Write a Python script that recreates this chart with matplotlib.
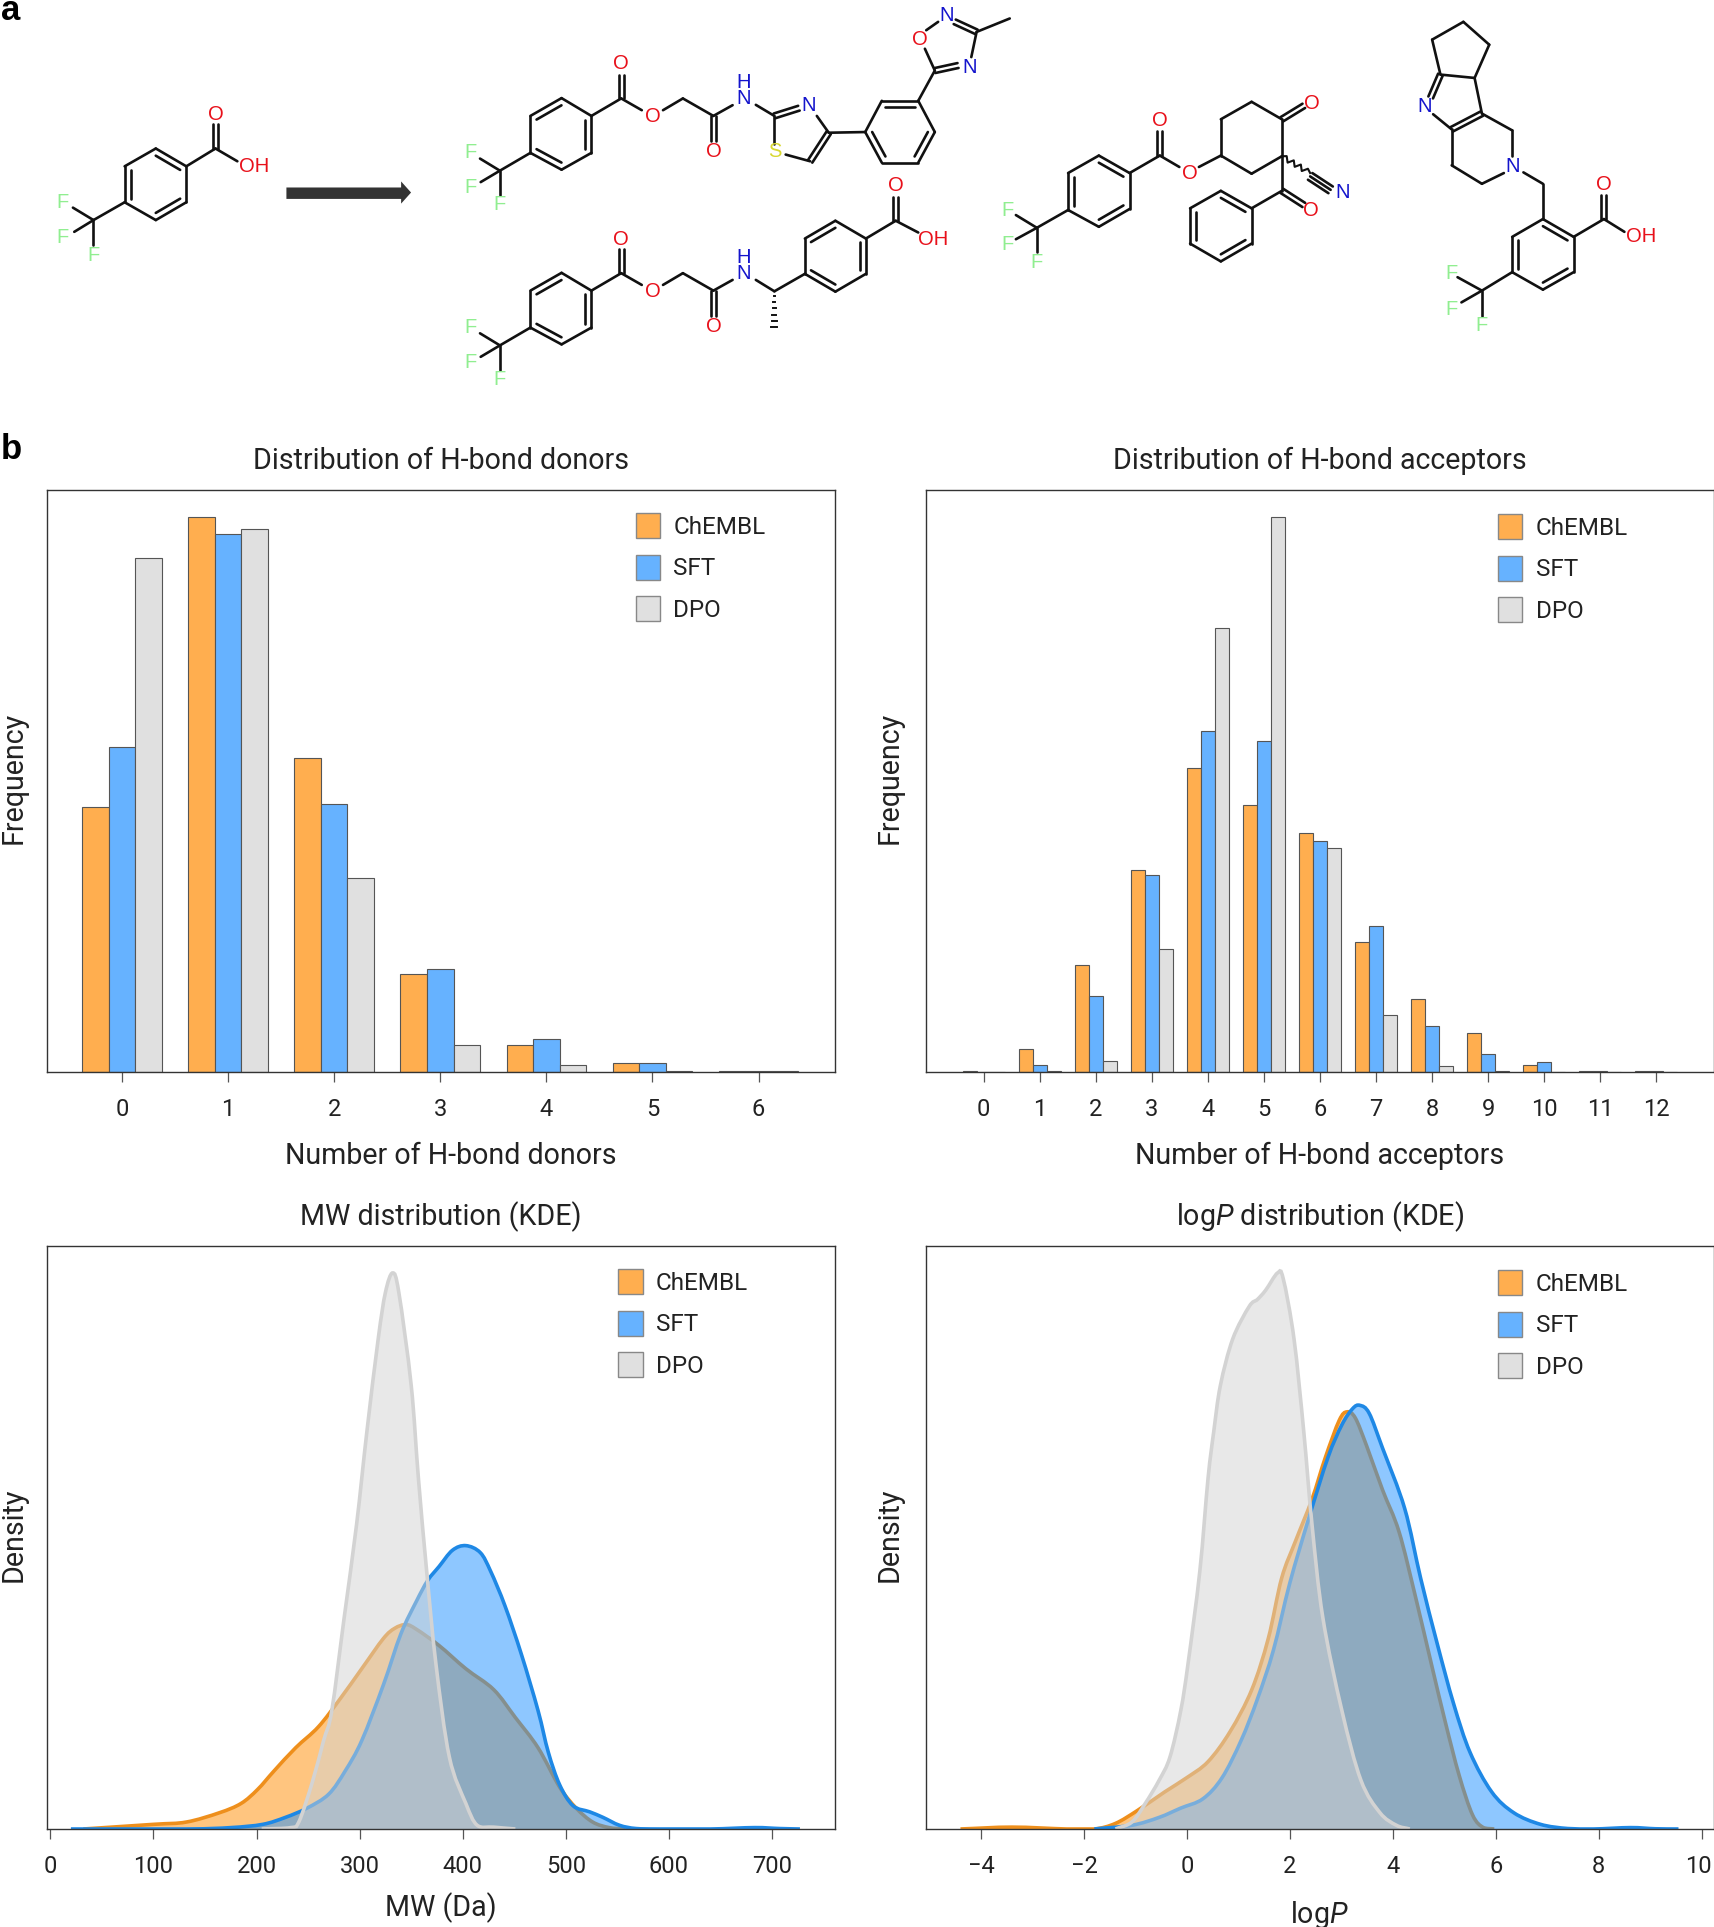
"""Property distributions of generated molecules, with example structures on top."""

import matplotlib
matplotlib.use("Agg")
import matplotlib.pyplot as plt
import numpy as np
from matplotlib.patches import Patch, PathPatch, Polygon
from matplotlib.path import Path
from matplotlib.transforms import ScaledTranslation

plt.rcParams["font.family"] = ["Roboto", "DejaVu Sans"]
plt.rcParams["mathtext.fontset"] = "custom"
plt.rcParams["mathtext.rm"] = "Roboto"
plt.rcParams["mathtext.it"] = "Roboto:italic"

W, H = 1715, 1927

SERIES = ["ChEMBL", "SFT", "DPO"]
BAR_COLORS = ["#FFAE4F", "#66B2FF", "#E0E0E0"]
KDE_COLORS = ["#FF8C00", "#1E90FF", "#D3D3D3"]
KDE_LINES = ["#EE8F1C", "#1E88E5", "#D3D3D3"]

# bar heights, arbitrary frequency units
DONORS = [0, 1, 2, 3, 4, 5, 6]
DONOR_CHEMBL = [215, 451, 255, 80, 22, 7, 1]
DONOR_SFT = [264, 437, 218, 84, 27, 7, 1]
DONOR_DPO = [418, 441, 158, 22, 6, 0.5, 0.5]

ACCEPTORS = [0, 1, 2, 3, 4, 5, 6, 7, 8, 9, 10, 11, 12]
ACC_CHEMBL = [0.5, 19, 87, 164, 247, 217, 194, 106, 59, 32, 6, 1, 1]
ACC_SFT = [0.3, 6, 62, 160, 277, 269, 188, 119, 37, 15, 8, 1, 0.5]
ACC_DPO = [0, 0.5, 9, 100, 361, 451, 182, 46, 5, 0.5, 0, 0, 0]

# KDE curves (density in arbitrary units)
MW_CHEMBL_X = [32, 100, 132, 164, 185, 201, 217, 238, 260, 281, 302, 323, 334, 345, 355, 377, 403, 430, 451, 473, 494, 510, 526, 542, 558]
MW_CHEMBL_Y = [0, 10, 15, 35, 55, 85, 125, 175, 220, 280, 345, 410, 432, 440, 430, 395, 345, 300, 240, 175, 90, 45, 15, 3, 0]
MW_SFT_X = [20, 132, 175, 206, 228, 249, 270, 286, 302, 323, 340, 355, 366, 377, 390, 403, 417, 427, 441, 457, 473, 483, 494, 507, 523, 536, 552, 568, 590, 640, 683, 707, 727]
MW_SFT_Y = [0, 0, 3, 10, 25, 45, 75, 125, 190, 310, 420, 490, 535, 565, 600, 610, 595, 555, 480, 375, 255, 165, 95, 50, 37, 25, 8, 1, 0, 0, 3, 1, 0]
MW_DPO_X = [205, 233, 241, 254, 265, 273, 285, 297, 307, 318, 325, 332, 338, 350, 357, 365, 374, 387, 403, 414, 430, 451]
MW_DPO_Y = [0, 3, 15, 100, 190, 255, 455, 655, 855, 1055, 1155, 1197, 1155, 955, 755, 555, 355, 155, 55, 8, 4, 0]

LOGP_CHEMBL_X = [-4.4, -3.4, -2.34, -1.8, -1.39, -0.96, -0.43, -0.01, 0.41, 0.84, 1.26, 1.58, 1.84, 2.11, 2.43, 2.69, 2.96, 3.11, 3.27, 3.49, 3.8, 4.12, 4.44, 4.76, 5.02, 5.29, 5.55, 5.76, 5.97]
LOGP_CHEMBL_Y = [0, 4, 0, 0, 12, 40, 80, 110, 145, 210, 300, 410, 540, 620, 710, 800, 880, 898, 885, 825, 730, 640, 500, 350, 230, 115, 30, 3, 0]
LOGP_SFT_X = [-1.8, -1.07, -0.54, -0.12, 0.31, 0.68, 1.05, 1.37, 1.68, 2.0, 2.37, 2.74, 3.01, 3.22, 3.36, 3.54, 3.8, 4.23, 4.54, 4.86, 5.18, 5.5, 5.92, 6.35, 6.87, 7.4, 7.9, 8.62, 9.1, 9.55]
LOGP_SFT_Y = [0, 8, 25, 45, 65, 110, 190, 280, 385, 530, 670, 800, 870, 905, 912, 895, 820, 690, 540, 400, 270, 165, 80, 35, 10, 1, 0, 3, 0.5, 0]
LOGP_DPO_X = [-1.39, -1.07, -0.81, -0.54, -0.33, -0.12, 0.02, 0.25, 0.41, 0.52, 0.65, 0.89, 1.21, 1.37, 1.53, 1.76, 1.87, 2.08, 2.27, 2.43, 2.64, 3.01, 3.38, 3.75, 4.07, 4.33]
LOGP_DPO_Y = [0, 15, 55, 105, 155, 255, 355, 555, 755, 855, 955, 1055, 1125, 1140, 1160, 1197, 1185, 1055, 855, 655, 455, 255, 105, 35, 8, 0]

# structures: coordinates on two sketch sheets
RED, BLUE, GREEN, YELLOW = "#E8101A", "#1414CC", "#90EE90", "#D8D830"
SHEET_A = (0.663, 0.336, 0)
SHEET_B = (0.488, 0.336, 950)

ACID_RING = [(235, 442), (281, 495), (281, 602), (235, 655), (188, 602), (188, 495)]
ACID_RING_DBL = [0, 2, 4]
ACID_BONDS = [((281, 495), (325, 442)), ((325, 442), (358, 480)), ((188, 602), (141, 655)),
              ((141, 655), (110, 618)), ((141, 655), (112, 690)), ((141, 655), (141, 730))]
ACID_DBL = [((325, 442), (325, 370))]
ACID_LABELS = [(326, 340, "O", RED), (383, 495, "OH", RED), (95, 602, "F", GREEN),
               (95, 708, "F", GREEN), (141, 760, "F", GREEN)]

TOP_RINGS = [([(847, 292), (892, 345), (892, 455), (847, 505), (800, 455), (800, 345)], [1, 3, 5]),
             ([(1330, 300), (1385, 300), (1410, 393), (1385, 484), (1330, 484), (1305, 393)], [0, 2, 4])]
TOP_BONDS = [((754, 508), (800, 455)), ((754, 508), (724, 472)), ((754, 508), (725, 542)), ((754, 508), (754, 580)),
             ((892, 345), (937, 293)), ((937, 293), (968, 328)), ((1000, 328), (1030, 293)), ((1030, 293), (1076, 345)),
             ((1076, 345), (1105, 313)), ((1140, 312), (1168, 345)), ((1232, 345), (1250, 395)),
             ((1222, 480), (1185, 460)), ((1168, 345), (1168, 430)), ((1250, 395), (1305, 393)),
             ((1385, 300), (1410, 210)), ((1410, 210), (1395, 145)), ((1397, 90), (1415, 65)),
             ((1473, 95), (1465, 170)), ((1473, 95), (1523, 55))]
TOP_DBL = [((937, 293), (937, 222)), ((1076, 345), (1076, 420)), ((1168, 345), (1205, 322)),
           ((1250, 395), (1222, 480)), ((1440, 65), (1473, 95)), ((1445, 195), (1410, 210))]
TOP_LABELS = [(710, 455, "F", GREEN), (710, 558, "F", GREEN), (754, 610, "F", GREEN), (937, 190, "O", RED),
              (984, 347, "O", RED), (1076, 452, "O", RED), (1122, 293, "N", BLUE), (1122, 245, "H", BLUE),
              (1220, 313, "N", BLUE), (1169, 452, "S", YELLOW), (1388, 118, "O", RED), (1428, 45, "N", BLUE),
              (1462, 200, "N", BLUE)]

LOW_RINGS = [([(847, 812), (892, 865), (892, 975), (847, 1025), (800, 975), (800, 865)], [1, 3, 5]),
             ([(1214, 815), (1214, 710), (1260, 657), (1306, 710), (1306, 815), (1260, 868)], [1, 3, 5])]
LOW_BONDS = [((754, 1028), (800, 975)), ((754, 1028), (724, 992)), ((754, 1028), (725, 1062)), ((754, 1028), (754, 1100)),
             ((892, 865), (937, 813)), ((937, 813), (968, 848)), ((1000, 848), (1030, 813)), ((1030, 813), (1076, 865)),
             ((1076, 865), (1105, 833)), ((1140, 833), (1168, 867)), ((1168, 867), (1214, 815)),
             ((1306, 710), (1351, 657)), ((1351, 657), (1385, 692))]
LOW_DBL = [((937, 813), (937, 742)), ((1076, 865), (1076, 940)), ((1351, 657), (1351, 585))]
LOW_LABELS = [(710, 975, "F", GREEN), (710, 1078, "F", GREEN), (754, 1130, "F", GREEN), (937, 712, "O", RED),
              (984, 867, "O", RED), (1076, 972, "O", RED), (1122, 815, "N", BLUE), (1122, 767, "H", BLUE),
              (1351, 552, "O", RED), (1408, 712, "OH", RED)]

KETO_RINGS = [([(305, 463), (368, 515), (368, 622), (305, 675), (242, 625), (242, 515)], [0, 2, 4]),
              ([(555, 463), (555, 355), (618, 303), (680, 355), (680, 465), (618, 517)], []),
              ([(555, 568), (618, 620), (618, 725), (555, 778), (492, 725), (492, 620)], [0, 2, 4])]
KETO_BONDS = [((178, 678), (242, 625)), ((178, 678), (135, 640)), ((178, 678), (135, 712)), ((178, 678), (178, 750)),
              ((368, 515), (430, 463)), ((430, 463), (470, 497)), ((510, 497), (555, 463)),
              ((680, 465), (680, 568)), ((680, 568), (618, 620))]
KETO_DBL = [((430, 463), (430, 390)), ((680, 355), (725, 315)), ((680, 568), (725, 610))]
KETO_TRIPLE = [((738, 525), (780, 565))]
KETO_WAVE = ((680, 465), (738, 515))
KETO_LABELS = [(117, 625, "F", GREEN), (117, 728, "F", GREEN), (178, 782, "F", GREEN), (430, 360, "O", RED),
               (492, 517, "O", RED), (741, 307, "O", RED), (740, 625, "O", RED), (805, 572, "N", BLUE)]

BICYCLE_RINGS = [([(1215, 652), (1278, 705), (1278, 810), (1215, 862), (1152, 810), (1152, 705)], [0, 2, 4]),
                 ([(1052, 65), (1105, 133), (1075, 232), (1005, 222), (988, 118)], [])]
BICYCLE_BONDS = [((1075, 232), (1090, 338)), ((990, 340), (1028, 385)), ((1090, 338), (1152, 388)),
                 ((1152, 388), (1152, 465)), ((1135, 515), (1090, 547)), ((1090, 547), (1028, 492)),
                 ((1028, 492), (1028, 385)), ((1175, 513), (1215, 547)), ((1215, 547), (1215, 652)),
                 ((1278, 705), (1340, 652)), ((1340, 652), (1382, 690)), ((1152, 810), (1090, 865)),
                 ((1090, 865), (1040, 825)), ((1090, 865), (1048, 900)), ((1090, 865), (1090, 940))]
BICYCLE_DBL = [((1005, 222), (985, 290)), ((1028, 385), (1090, 338)), ((1340, 652), (1340, 580))]
BICYCLE_LABELS = [(973, 318, "N", BLUE), (1152, 495, "N", BLUE), (1340, 550, "O", RED), (1417, 705, "OH", RED),
                  (1028, 815, "F", GREEN), (1028, 920, "F", GREEN), (1090, 970, "F", GREEN)]


def add_axes_px(fig, left, top, right, bottom):
    return fig.add_axes([left / W, 1 - bottom / H, (right - left) / W, (bottom - top) / H])


def draw_molecule(ax, sheet, rings, bonds, doubles, labels, triples=()):
    sx, sy, ox = sheet

    def conv(p):
        return np.array([p[0] * sx + ox, p[1] * sy])

    def line(a, b):
        ax.plot([a[0], b[0]], [a[1], b[1]], color="#111111", lw=1.9, solid_capstyle="round")

    def offset_pair(a, b, dist):
        d = b - a
        n = np.array([-d[1], d[0]]) / np.hypot(*d)
        return a + n * dist, b + n * dist

    for pts, dbl_edges in rings:
        pts = [conv(p) for p in pts]
        center = np.mean(pts, axis=0)
        for i, p in enumerate(pts):
            q = pts[(i + 1) % len(pts)]
            line(p, q)
            if i in dbl_edges:
                a = p + (center - p) * 0.2
                b = q + (center - q) * 0.2
                line(a, b)
    for a, b in bonds:
        line(conv(a), conv(b))
    for a, b in doubles:
        a, b = conv(a), conv(b)
        line(*offset_pair(a, b, 2.5))
        line(*offset_pair(a, b, -2.5))
    for a, b in triples:
        a, b = conv(a), conv(b)
        line(a, b)
        line(*offset_pair(a, b, 4))
        line(*offset_pair(a, b, -4))
    for x, y, s, c in labels:
        ax.text(x * sx + ox, y * sy, s, color=c, fontsize=14.5, family="Liberation Sans",
                ha="center", va="center")


def draw_structures(fig):
    ax = fig.add_axes([0, 0, 1, 1], zorder=-1)
    ax.set_xlim(0, W)
    ax.set_ylim(H, 0)
    ax.axis("off")

    draw_molecule(ax, SHEET_A, [(ACID_RING, ACID_RING_DBL)], ACID_BONDS, ACID_DBL, ACID_LABELS)
    draw_molecule(ax, SHEET_A, TOP_RINGS, TOP_BONDS, TOP_DBL, TOP_LABELS)
    draw_molecule(ax, SHEET_A, LOW_RINGS, LOW_BONDS, LOW_DBL, LOW_LABELS)
    draw_molecule(ax, SHEET_B, KETO_RINGS, KETO_BONDS, KETO_DBL, KETO_LABELS, triples=KETO_TRIPLE)
    draw_molecule(ax, SHEET_B, BICYCLE_RINGS, BICYCLE_BONDS, BICYCLE_DBL, BICYCLE_LABELS)

    # hashed stereo bond on the lower structure
    sx, sy, ox = SHEET_A
    for frac, half in [(0.12, 0.5), (0.3, 1), (0.48, 1.5), (0.66, 2), (0.84, 2.5), (1.0, 3)]:
        y = (867 + (972 - 867) * frac) * sy
        x = 1168 * sx
        ax.plot([x - half, x + half], [y, y], color="#111111", lw=1.4)

    # wavy bond on the keto structure
    sx, sy, ox = SHEET_B
    (x0, y0), (x1, y1) = KETO_WAVE
    wx = np.array([0, 1, 2, 3, 4, 5, 6, 7, 8]) / 8
    wob = np.array([0, 1, -1, 1, -1, 1, -1, 1, 0]) * 2.2
    ax.plot((x0 + (x1 - x0) * wx) * sx + ox + wob * 0.6, (y0 + (y1 - y0) * wx) * sy - wob,
            color="#111111", lw=1.5)

    # reaction arrow
    sx, sy, ox = SHEET_A
    arrow = [(432, 558), (605, 558), (605, 540), (620, 573), (605, 606), (605, 592), (432, 592)]
    ax.add_patch(Polygon([(x * sx, y * sy) for x, y in arrow], closed=True, color="#333333", lw=0))

    fig.text(1 / W, 1 - 20 / H, "a", fontsize=25, fontweight="bold", va="baseline", family="Liberation Sans")
    fig.text(1 / W, 1 - 459 / H, "b", fontsize=25, fontweight="bold", va="baseline", family="Liberation Sans")


def style_axes(ax, title, xlabel, ylabel, xlabel_x=0.5, labelpad=15, ylabel_x=-0.029):
    for s in ax.spines.values():
        s.set_color("#333333")
        s.set_linewidth(1.0)
        s.set_zorder(5)
    ax.set_yticks([])
    ax.tick_params(axis="x", length=7.5, width=0.9, color="#555555", labelsize=17, pad=11.5, labelcolor="#222222")
    ax.set_title(title, fontsize=20.6, pad=15, color="#222222")
    ax.set_xlabel(xlabel, fontsize=20.6, labelpad=labelpad, x=xlabel_x, color="#222222")
    ax.set_ylabel(ylabel, fontsize=20.6, color="#222222")
    ax.yaxis.set_label_coords(ylabel_x, 0.505)


def add_legend(ax, x, y):
    handles = [Patch(facecolor=c, edgecolor="#888888", linewidth=1) for c in BAR_COLORS]
    ax.legend(handles, SERIES, loc="upper left", bbox_to_anchor=(x, y), frameon=False, fontsize=17.5,
              handlelength=1.0, handleheight=1.2, handletextpad=0.55, labelspacing=0.645,
              borderpad=0, borderaxespad=0, labelcolor="#222222")


def plot_bars(ax, cats, series, width):
    cats = np.array(cats)
    for i, (vals, color) in enumerate(zip(series, BAR_COLORS)):
        ax.bar(cats + (i - 1) * width, vals, width, color=color, edgecolor="#555555", linewidth=0.8)
    ax.set_xticks(cats)
    ax.set_ylim(0, 473)


def smooth_path(x, y, close=False):
    # bezier through the read points, control points from neighbouring slopes
    x, y = np.asarray(x, float), np.asarray(y, float)
    dx = np.gradient(x)
    dy = np.gradient(y)
    verts = [(x[0], y[0])]
    codes = [Path.MOVETO]
    for i in range(len(x) - 1):
        verts.append((x[i] + dx[i] / 3, max(y[i] + dy[i] / 3, 0)))
        verts.append((x[i + 1] - dx[i + 1] / 3, max(y[i + 1] - dy[i + 1] / 3, 0)))
        verts.append((x[i + 1], y[i + 1]))
        codes += [Path.CURVE4] * 3
    if close:
        verts.append((x[0], y[0]))
        codes.append(Path.CLOSEPOLY)
    return Path(verts, codes)


def plot_kde(ax, curves):
    for i, ((x, y), fill, edge) in enumerate(zip(curves, KDE_COLORS, KDE_LINES)):
        ax.add_patch(PathPatch(smooth_path(x, y, close=True), facecolor=fill, alpha=0.5, lw=0, zorder=1 + i))
        ax.add_patch(PathPatch(smooth_path(x, y), facecolor="none", edgecolor=edge, lw=2.6, zorder=1 + i))
    ax.set_ylim(0, 1255)


def main():
    fig = plt.figure(figsize=(W / 100, H / 100), dpi=100)
    draw_structures(fig)

    ax = add_axes_px(fig, 47, 490, 835, 1072)
    plot_bars(ax, DONORS, [DONOR_CHEMBL, DONOR_SFT, DONOR_DPO], 0.25)
    ax.set_xlim(-0.706, 6.72)
    style_axes(ax, "Distribution of H-bond donors", "Number of H-bond donors", "Frequency",
               xlabel_x=0.513, ylabel_x=-0.024)
    add_legend(ax, 0.747, 0.96)

    ax = add_axes_px(fig, 926, 490, 1714, 1072)
    plot_bars(ax, ACCEPTORS, [ACC_CHEMBL, ACC_SFT, ACC_DPO], 0.25)
    ax.set_xlim(-1.03, 13.03)
    style_axes(ax, "Distribution of H-bond acceptors", "Number of H-bond acceptors", "Frequency")
    add_legend(ax, 0.726, 0.958)

    ax = add_axes_px(fig, 47, 1246, 835, 1829)
    plot_kde(ax, [(MW_CHEMBL_X, MW_CHEMBL_Y), (MW_SFT_X, MW_SFT_Y), (MW_DPO_X, MW_DPO_Y)])
    ax.set_xlim(-3.2, 761)
    ax.set_xticks([0, 100, 200, 300, 400, 500, 600, 700])
    style_axes(ax, "MW distribution (KDE)", "MW (Da)", "Density", labelpad=10, ylabel_x=-0.024)
    add_legend(ax, 0.725, 0.96)

    ax = add_axes_px(fig, 926, 1246, 1714, 1829)
    plot_kde(ax, [(LOGP_CHEMBL_X, LOGP_CHEMBL_Y), (LOGP_SFT_X, LOGP_SFT_Y), (LOGP_DPO_X, LOGP_DPO_Y)])
    ax.set_xlim(-5.07, 10.24)
    ax.set_xticks([-4, -2, 0, 2, 4, 6, 8, 10])
    style_axes(ax, "log$P$ distribution (KDE)", "log$P$", "Density")
    add_legend(ax, 0.726, 0.958)
    # last tick label sits right at the page edge, nudge it inside
    last = ax.get_xticklabels()[-1]
    last.set_transform(last.get_transform() + ScaledTranslation(-2 / 72, 0, fig.dpi_scale_trans))

    fig.savefig("out.png", dpi=100)
    plt.close(fig)


if __name__ == "__main__":
    main()
